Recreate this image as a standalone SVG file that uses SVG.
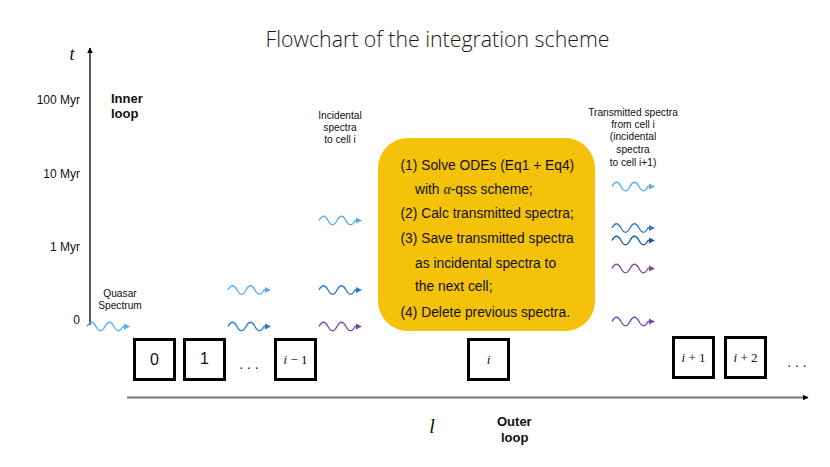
<svg xmlns="http://www.w3.org/2000/svg" xmlns:xlink="http://www.w3.org/1999/xlink" width="830" height="467" viewBox="0 0 830 467">
<style>
.sans{font-family:"Liberation Sans",Arial,sans-serif;}
.serif{font-family:"Liberation Serif","Times New Roman",serif;}
.title{font-family:"Open Sans","Liberation Sans",Arial,sans-serif;font-weight:300;font-size:21.3px;fill:#1a1a1a;}
.ylab{font-size:12px;fill:#111;text-anchor:end;}
.small{font-size:10.2px;fill:#111;text-anchor:middle;}
.bold{font-size:13px;font-weight:bold;fill:#111;}
.step{font-size:13.8px;fill:#111;}
.cell{fill:#fff;stroke:#000;stroke-width:3;}
.cnum{font-size:16px;fill:#111;text-anchor:middle;}
.cmath{font-size:13px;fill:#111;text-anchor:middle;}
.lb{color:#5aaaf2;}
.mb{color:#2a78d2;}
.db{color:#1c5a9e;}
.pu{color:#7a48a8;}
</style>
<defs>
<g id="wave">
<path d="M0,0 q4.5,-8.5 9,0 t9,0 t9,0 t9,0 L38,0" fill="none" stroke="currentColor" stroke-width="1.3"/>
<polygon points="37,-3 43,0 37,3" fill="currentColor"/>
</g>
<marker id="ah" viewBox="0 0 10 10" refX="9" refY="5" markerWidth="6" markerHeight="6" orient="auto" markerUnits="userSpaceOnUse">
<path d="M0,0 L10,5 L0,10 z" fill="#000"/>
</marker>
</defs>

<text class="title" x="437.5" y="47" text-anchor="middle">Flowchart of the integration scheme</text>

<g id="axes">
<line x1="90" y1="325" x2="90" y2="48" stroke="#000" stroke-width="1.3" marker-end="url(#ah)"/>
<line x1="127" y1="397.5" x2="808" y2="397.5" stroke="#777" stroke-width="2" marker-end="url(#ah)"/>
<text class="serif" x="72" y="60" font-size="18" font-style="italic" text-anchor="middle" fill="#111">t</text>
<text class="serif" x="432" y="433" font-size="20" font-style="italic" text-anchor="middle" fill="#111">l</text>
<text class="sans ylab" x="80" y="104">100 Myr</text>
<text class="sans ylab" x="80" y="177.5">10 Myr</text>
<text class="sans ylab" x="80" y="250.5">1 Myr</text>
<text class="sans ylab" x="80" y="323.5">0</text>
<text class="sans bold" x="111" y="103">Inner</text>
<text class="sans bold" x="111" y="118">loop</text>
<text class="sans bold" x="497" y="426">Outer</text>
<text class="sans bold" x="501" y="442">loop</text>
</g>

<g id="labels">
<text class="sans small" x="120" y="297">Quasar</text>
<text class="sans small" x="120" y="309">Spectrum</text>
<text class="sans small" x="340" y="119">Incidental</text>
<text class="sans small" x="340" y="131">spectra</text>
<text class="sans small" x="340" y="143">to cell i</text>
<text class="sans small" x="633" y="115.5">Transmitted spectra</text>
<text class="sans small" x="633" y="127.5">from cell i</text>
<text class="sans small" x="633" y="139.5">(incidental</text>
<text class="sans small" x="633" y="152.5">spectra</text>
<text class="sans small" x="633" y="165.5">to cell i+1)</text>
</g>

<g id="process">
<rect x="378" y="138" width="217" height="193" rx="30" ry="30" fill="#f4c20a"/>
<text class="sans step" x="400.5" y="170">(1) Solve ODEs (Eq1 + Eq4)</text>
<text class="sans step" x="415" y="194">with <tspan class="serif" font-style="italic">α</tspan>-qss scheme;</text>
<text class="sans step" x="400.5" y="218">(2) Calc transmitted spectra;</text>
<text class="sans step" x="400.5" y="242.5">(3) Save transmitted spectra</text>
<text class="sans step" x="415" y="267.5">as incidental spectra to</text>
<text class="sans step" x="415" y="291">the next cell;</text>
<text class="sans step" x="400.5" y="316.5">(4) Delete previous spectra.</text>
</g>

<g id="connectors">
<use xlink:href="#wave" href="#wave" x="87" y="326.5" class="lb"/>
<use xlink:href="#wave" href="#wave" x="228" y="290" class="lb"/>
<use xlink:href="#wave" href="#wave" x="228" y="326.5" class="mb"/>
<use xlink:href="#wave" href="#wave" x="319" y="220.5" class="lb"/>
<use xlink:href="#wave" href="#wave" x="319" y="290" class="mb"/>
<use xlink:href="#wave" href="#wave" x="319" y="326.5" class="pu"/>
<use xlink:href="#wave" href="#wave" x="612" y="186.5" class="lb"/>
<use xlink:href="#wave" href="#wave" x="612" y="228" class="mb"/>
<use xlink:href="#wave" href="#wave" x="612" y="240.5" class="db"/>
<use xlink:href="#wave" href="#wave" x="612" y="268.5" class="pu"/>
<use xlink:href="#wave" href="#wave" x="612" y="321.5" class="pu"/>
</g>

<g id="cell0"><rect class="cell" x="134.5" y="339.5" width="40" height="40"/><text class="sans cnum" x="154.5" y="365">0</text></g>
<g id="cell1"><rect class="cell" x="184.5" y="339.5" width="40" height="40"/><text class="sans cnum" x="204.5" y="364">1</text></g>
<g id="dots1"><text class="sans" x="249" y="369" font-size="14" text-anchor="middle" fill="#111">. . .</text></g>
<g id="cellim1"><rect class="cell" x="275.5" y="339.5" width="40" height="40"/><text class="serif cmath" x="295.5" y="363.5"><tspan font-style="italic">i</tspan> − 1</text></g>
<g id="celli"><rect class="cell" x="468.5" y="339.5" width="40" height="40"/><text class="serif cmath" x="488.5" y="363.5" font-style="italic">i</text></g>
<g id="cellip1"><rect class="cell" x="673.5" y="337.5" width="40" height="40"/><text class="serif cmath" x="693.5" y="361.5"><tspan font-style="italic">i</tspan> + 1</text></g>
<g id="cellip2"><rect class="cell" x="725.5" y="337.5" width="40" height="40"/><text class="serif cmath" x="745.5" y="361.5"><tspan font-style="italic">i</tspan> + 2</text></g>
<g id="dots2"><text class="sans" x="797" y="367" font-size="14" text-anchor="middle" fill="#111">. . .</text></g>
</svg>
